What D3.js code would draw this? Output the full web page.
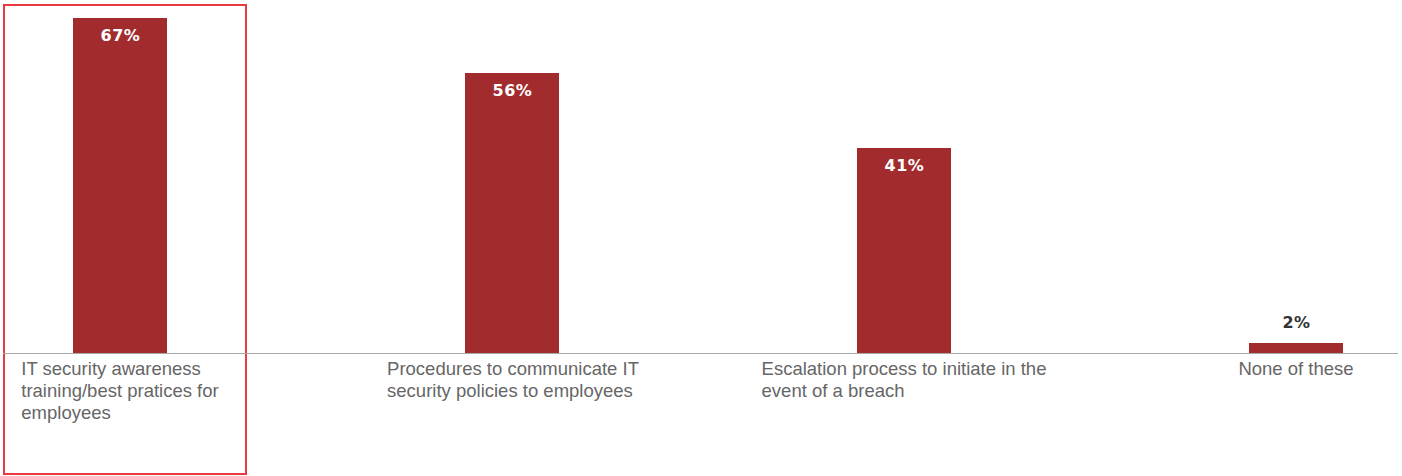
<!DOCTYPE html>
<html>
<head>
<meta charset="utf-8">
<script src="https://cdn.jsdelivr.net/npm/d3@7"></script>
<style>
  html, body { margin: 0; padding: 0; background: #fff; }
  svg { display: block; }
</style>
</head>
<body>
<svg id="chart" width="1402" height="476"></svg>
<script>
// Measures in place, share of respondents (%)
const categories = [
  "IT security awareness training/best pratices for employees",
  "Procedures to communicate IT security policies to employees",
  "Escalation process to initiate in the event of a breach",
  "None of these"
];
const categoryLines = [
  ["IT security awareness", "training/best pratices for", "employees"],
  ["Procedures to communicate IT", "security policies to employees"],
  ["Escalation process to initiate in the", "event of a breach"],
  ["None of these"]
];
const values = [67, 56, 41, 2];
const highlighted = [0];

const W = 1402, H = 476;
const baseY = 353;
const barColor = "#a22b2e";

const svg = d3.select("#chart");

const x = d3.scalePoint()
  .domain(categories)
  .range([120, 1296]);

const y = d3.scaleLinear()
  .domain([0, 67])
  .range([baseY, 18]);

const barW = 94;

// highlight frame around selected category
highlighted.forEach(i => {
  const cx = x(categories[i]);
  svg.append("rect")
    .attr("x", cx - 116)
    .attr("y", 5)
    .attr("width", 242)
    .attr("height", 469)
    .attr("fill", "none")
    .attr("stroke", "#ea3a40")
    .attr("stroke-width", 2);
});

// bars
svg.append("g").selectAll("rect")
  .data(values)
  .join("rect")
  .attr("x", (d, i) => x(categories[i]) - barW / 2)
  .attr("y", d => y(d))
  .attr("width", barW)
  .attr("height", d => baseY - y(d))
  .attr("fill", barColor);

// baseline
svg.append("line")
  .attr("x1", 3).attr("x2", 1398)
  .attr("y1", baseY + 0.5).attr("y2", baseY + 0.5)
  .attr("stroke", "#a8a8a8")
  .attr("stroke-width", 1);

// value labels: inside bar when tall enough, above otherwise
svg.append("g").selectAll("text")
  .data(values)
  .join("text")
  .attr("x", (d, i) => x(categories[i]) + 0.5)
  .attr("y", d => (baseY - y(d) > 40) ? y(d) + 23 : y(d) - 15)
  .attr("text-anchor", "middle")
  .attr("font-family", "'DejaVu Sans', Verdana, sans-serif")
  .attr("font-weight", "bold")
  .attr("font-size", 16)
  .attr("letter-spacing", 0.5)
  .attr("fill", d => (baseY - y(d) > 40) ? "#ffffff" : "#333333")
  .text(d => d + "%");

// category labels: block centred under bar, lines left-aligned
const labelG = svg.append("g")
  .attr("font-family", "'Liberation Sans', Arial, Helvetica, sans-serif")
  .attr("font-size", 18.5)
  .attr("fill", "#666666");

categoryLines.forEach((lines, i) => {
  const t = labelG.append("text").attr("y", baseY + 22);
  lines.forEach((ln, j) => {
    t.append("tspan")
      .attr("dy", j === 0 ? 0 : 22)
      .text(ln);
  });
  const tspans = t.selectAll("tspan").nodes();
  const maxW = d3.max(tspans, n => n.getComputedTextLength());
  const left = x(categories[i]) - maxW / 2;
  t.selectAll("tspan").attr("x", left);
});
</script>
</body>
</html>
